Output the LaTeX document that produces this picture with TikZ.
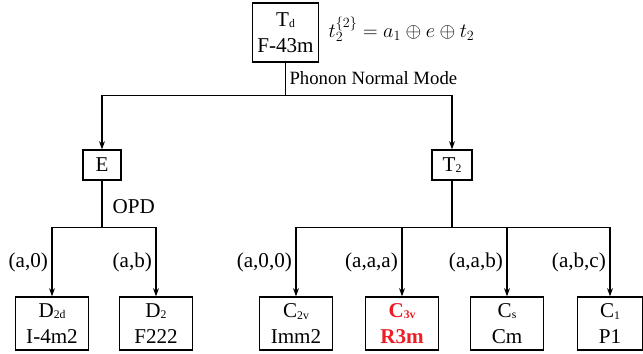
\documentclass[tikz,border=0pt]{standalone}
\usepackage{fontspec}
\setmainfont{Liberation Serif}
\usetikzlibrary{arrows.meta, positioning}
\definecolor{highred}{HTML}{EE1C25}
\newcommand{\lowsub}[1]{\raisebox{-0.15ex}{\fontsize{10}{10}\selectfont #1}}

\begin{document}
\begin{tikzpicture}[x=0.03cm, y=-0.03cm, line width=1.1pt,
    font=\rmfamily\fontsize{18}{22}\selectfont,
    >={Stealth[length=7pt, width=5pt]},
    groupbox/.style={draw, align=center, inner sep=1pt},
    leafbox/.style={groupbox, minimum width=2.19cm, minimum height=1.59cm},
    pathlbl/.style={left, inner sep=3pt}]
  \useasboundingbox (0,0) rectangle (643,353);

  % parent group and its irreps
  \node[groupbox, minimum width=2.0cm, minimum height=1.77cm] (Td) at (285.5,32.5) {T\lowsub{d}\\F-43m};
  \node[anchor=west, xshift=4pt, yshift=3pt] (decomp) at (Td.east) {$t_2^{\{2\}} = a_1 \oplus e \oplus t_2$};
  \node[groupbox, minimum width=1.14cm, minimum height=0.9cm] (E) at (102,165) {E};
  \node[groupbox, minimum width=1.2cm, minimum height=0.9cm] (T2) at (452,165) {T\lowsub{2}};

  \draw (Td.south) -- ++(0,33) coordinate (split1);
  \node[anchor=west, font=\rmfamily\fontsize{16}{19}\selectfont] (pnm) at (285,78) {Phonon Normal Mode};
  \draw[->] (split1) -| (E.north);
  \draw[->] (split1) -| (T2.north);

  % subgroups
  \node[leafbox] (D2d) at (52,323.5) {D\lowsub{2d}\\I-4m2};
  \node[leafbox] (D2) at (156,323.5) {D\lowsub{2}\\F222};
  \node[leafbox] (C2v) at (296,323.5) {C\lowsub{2v}\\Imm2};
  \node[leafbox, text=highred, font=\rmfamily\fontsize{18}{22}\selectfont\bfseries] (C3v) at (402,323.5) {C\lowsub{3v}\\R3m};
  \node[leafbox] (Cs) at (507,323.5) {C\lowsub{s}\\Cm};
  \node[leafbox, minimum width=1.96cm] (C1) at (610,323.5) {C\lowsub{1}\\P1};

  \draw (E.south) -- ++(0,47) coordinate (split2);
  \node[anchor=west] (opd) at (108,207) {OPD};
  \draw (T2.south) -- ++(0,47) coordinate (split3);

  \foreach \src/\dst/\vec in {split2/D2d/{(a,0)}, split2/D2/{(a,b)},
      split3/C2v/{(a,0,0)}, split3/C3v/{(a,a,a)}, split3/Cs/{(a,a,b)}, split3/C1/{(a,b,c)}}{
    \draw[->] (\src) -| node[pathlbl, pos=0.75] {\vec} (\dst.north);
  }
\end{tikzpicture}
\end{document}
